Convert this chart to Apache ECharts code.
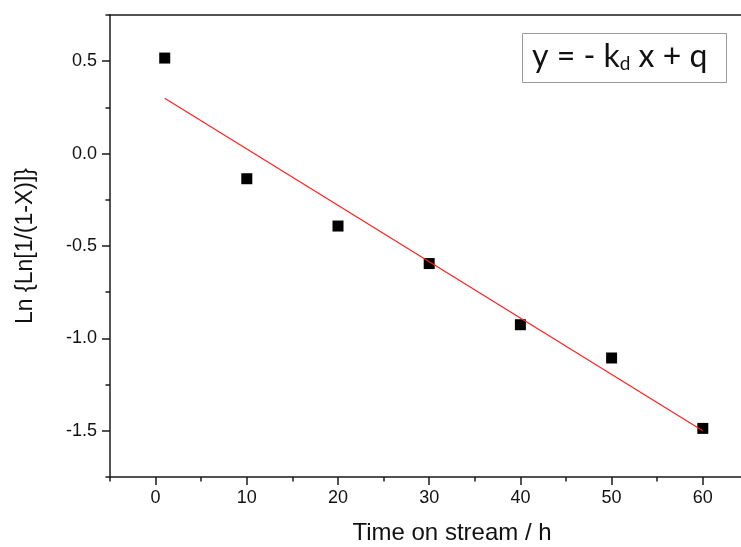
<!DOCTYPE html>
<html>
<head>
<meta charset="utf-8">
<script src="https://cdn.jsdelivr.net/npm/echarts@6/dist/echarts.min.js"></script>
<style>html,body{margin:0;padding:0;background:#fff;}#c{width:741px;height:547px;}</style>
</head>
<body>
<div id="c"></div>
<script>
// Data
const timeOnStream = [1, 10, 20, 30, 40, 50, 60];
const lnValues = [0.517, -0.136, -0.392, -0.595, -0.926, -1.106, -1.487];
// Linear fit line (end points)
const fitTime = [1, 60];
const fitValues = [0.30, -1.50];
// Ticks
const xMajorTicks = [0, 10, 20, 30, 40, 50, 60, 70];
const xMinorTicks = [-5, 5, 15, 25, 35, 45, 55, 65];
const yMajorTicks = [-1.5, -1.0, -0.5, 0.0, 0.5];
const yMinorTicks = [-1.75, -1.25, -0.75, -0.25, 0.25, 0.75];

const axisColor = '#1a1a1a';
const font = 'Liberation Sans, Arial, sans-serif';

const chart = echarts.init(document.getElementById('c'), null, {renderer: 'canvas'});
chart.setOption({
  animation: false,
  backgroundColor: '#fff',
  grid: {left: 110, top: 15, width: 684, height: 462, containLabel: false, outerBoundsMode: 'none'},
  title: {
    text: '{a|y = - k}{s|d}{a| x + q}',
    left: 522, top: 29,
    borderColor: '#999', borderWidth: 1,
    padding: [8, 19, 10, 10],
    textStyle: {
      fontWeight: 'normal',
      rich: {
        a: {fontFamily: 'Lato, Open Sans, sans-serif', fontSize: 32, fontWeight: 'normal', color: '#111', lineHeight: 36, verticalAlign: 'bottom'},
        s: {fontFamily: 'Lato, Open Sans, sans-serif', fontSize: 19, fontWeight: 'normal', color: '#111', lineHeight: 15, verticalAlign: 'bottom'}
      }
    }
  },
  xAxis: [
    {
      type: 'value', position: 'bottom', min: -5, max: 70,
      name: 'Time on stream / h', nameLocation: 'middle', nameGap: 44,
      nameTextStyle: {fontFamily: font, fontSize: 24, color: '#111'},
      axisLine: {show: true, onZero: false, lineStyle: {color: axisColor, width: 1.5}},
      axisTick: {show: true, inside: false, length: 8, customValues: xMajorTicks, lineStyle: {color: axisColor, width: 1.5}},
      axisLabel: {show: true, margin: 12, customValues: xMajorTicks.filter(v => v <= 60), fontFamily: font, fontSize: 18, color: '#111',
        formatter: v => String(v)},
      splitLine: {show: false}
    },
    {
      type: 'value', position: 'bottom', min: -5, max: 70,
      axisLine: {show: false, onZero: false},
      axisTick: {show: true, inside: false, length: 4.5, customValues: xMinorTicks, lineStyle: {color: axisColor, width: 1.5}},
      axisLabel: {show: false},
      splitLine: {show: false}
    },
    {
      type: 'value', position: 'top', min: -5, max: 70,
      axisLine: {show: true, onZero: false, lineStyle: {color: axisColor, width: 1.5}},
      axisTick: {show: false}, axisLabel: {show: false}, splitLine: {show: false}
    }
  ],
  yAxis: [
    {
      type: 'value', position: 'left', min: -1.75, max: 0.75,
      name: 'Ln {Ln[1/(1-X)]}', nameLocation: 'middle', nameGap: 73, nameRotate: 90,
      nameTextStyle: {fontFamily: font, fontSize: 23, color: '#111'},
      axisLine: {show: true, onZero: false, lineStyle: {color: axisColor, width: 1.5}},
      axisTick: {show: true, inside: false, length: 8, customValues: yMajorTicks, lineStyle: {color: axisColor, width: 1.5}},
      axisLabel: {show: true, margin: 13, customValues: yMajorTicks, fontFamily: font, fontSize: 18, color: '#111',
        formatter: v => v.toFixed(1)},
      splitLine: {show: false}
    },
    {
      type: 'value', position: 'left', min: -1.75, max: 0.75,
      axisLine: {show: false, onZero: false},
      axisTick: {show: true, inside: false, length: 4.5, customValues: yMinorTicks, lineStyle: {color: axisColor, width: 1.5}},
      axisLabel: {show: false},
      splitLine: {show: false}
    }
  ],
  series: [
    {
      type: 'scatter', xAxisIndex: 0, yAxisIndex: 0,
      symbol: 'rect', symbolSize: 11,
      itemStyle: {color: '#000', opacity: 1},
      data: timeOnStream.map((t, i) => [t, lnValues[i]]),
      z: 2
    },
    {
      type: 'line', xAxisIndex: 0, yAxisIndex: 0,
      showSymbol: false, symbol: 'none',
      lineStyle: {color: '#ff2020', width: 1.2},
      data: fitTime.map((t, i) => [t, fitValues[i]]),
      z: 3
    }
  ]
});
</script>
</body>
</html>
